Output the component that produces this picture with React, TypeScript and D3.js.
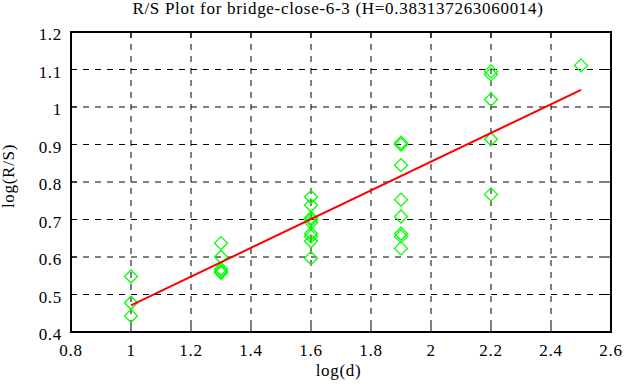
import React from "react";
import * as d3 from "d3";

const title = "R/S Plot for bridge-close-6-3 (H=0.383137263060014)";
const xTicks = [0.8, 1, 1.2, 1.4, 1.6, 1.8, 2, 2.2, 2.4, 2.6];
const yTicks = [0.4, 0.5, 0.6, 0.7, 0.8, 0.9, 1, 1.1, 1.2];
const xTickLabels = ["0.8", "1", "1.2", "1.4", "1.6", "1.8", "2", "2.2", "2.4", "2.6"];
const yTickLabels = ["0.4", "0.5", "0.6", "0.7", "0.8", "0.9", "1", "1.1", "1.2"];

const logD = [
  1, 1, 1,
  1.3, 1.3, 1.3, 1.3, 1.3,
  1.6, 1.6, 1.6, 1.6, 1.6, 1.6, 1.6, 1.6, 1.6,
  1.9, 1.9, 1.9, 1.9, 1.9, 1.9, 1.9, 1.9,
  2.2, 2.2, 2.2, 2.2, 2.2,
  2.5,
];
const logRS = [
  0.548, 0.478, 0.443,
  0.637, 0.600, 0.568, 0.562, 0.558,
  0.760, 0.738, 0.705, 0.700, 0.692, 0.662, 0.655, 0.642, 0.597,
  0.905, 0.900, 0.845, 0.753, 0.708, 0.662, 0.655, 0.623,
  1.095, 1.087, 1.020, 0.914, 0.767,
  1.111,
];
const fitX = [1, 2.5];
const slope = 0.383137263060014;
const intercept = 0.088;

const W = 626, H = 387;
const M = { left: 71, right: 611, top: 32, bottom: 332 };

export default function App() {
  const x = d3.scaleLinear().domain([0.8, 2.6]).range([M.left, M.right]);
  const y = d3.scaleLinear().domain([0.4, 1.2]).range([M.bottom, M.top]);
  const font = "'Liberation Serif', 'Times New Roman', serif";
  const fs = 17;
  const ls = 0.7;
  const line = d3.line<number>().x(d => x(d)).y(d => y(intercept + slope * d));
  const r = 6.5;
  const tl = 6;
  return (
    <svg width={W} height={H} style={{ position: "absolute", left: 0, top: 0, background: "#fff" }}>
      <rect x={0} y={0} width={W} height={H} fill="#fff" />
      <text x={338} y={13.5} textAnchor="middle" fontFamily={font} fontSize={fs} letterSpacing={ls}>{title}</text>
      {/* grid */}
      {xTicks.slice(1, -1).map(t => (
        <line key={"gx" + t} x1={x(t)} x2={x(t)} y1={M.top} y2={M.bottom} stroke="#000" strokeWidth={1} strokeDasharray="6,6" />
      ))}
      {yTicks.slice(1, -1).map(t => (
        <line key={"gy" + t} x1={M.left} x2={M.right} y1={y(t)} y2={y(t)} stroke="#000" strokeWidth={1} strokeDasharray="6,6" />
      ))}
      {/* ticks */}
      {xTicks.map(t => (
        <g key={"tx" + t}>
          <line x1={x(t)} x2={x(t)} y1={M.bottom} y2={M.bottom - tl} stroke="#000" strokeWidth={1} />
          <line x1={x(t)} x2={x(t)} y1={M.top} y2={M.top + tl} stroke="#000" strokeWidth={1} />
        </g>
      ))}
      {yTicks.map(t => (
        <g key={"ty" + t}>
          <line x1={M.left} x2={M.left + tl} y1={y(t)} y2={y(t)} stroke="#000" strokeWidth={1} />
          <line x1={M.right} x2={M.right - tl} y1={y(t)} y2={y(t)} stroke="#000" strokeWidth={1} />
        </g>
      ))}
      {/* points */}
      {logD.map((d, i) => {
        const cx = x(d), cy = y(logRS[i]);
        return (
          <path key={"p" + i} d={`M${cx},${cy - r}L${cx + r},${cy}L${cx},${cy + r}L${cx - r},${cy}Z`} fill="none" stroke="#00ff00" strokeWidth={1.3} />
        );
      })}
      {/* fit */}
      <path d={line(fitX) || ""} fill="none" stroke="#ff0000" strokeWidth={2} />
      {/* border */}
      <rect x={M.left} y={M.top} width={M.right - M.left} height={M.bottom - M.top} fill="none" stroke="#000" strokeWidth={2} />
      {/* labels */}
      {xTicks.map((t, i) => (
        <text key={"lx" + t} x={x(t)} y={356} textAnchor="middle" fontFamily={font} fontSize={fs} letterSpacing={ls}>{xTickLabels[i]}</text>
      ))}
      {yTicks.map((t, i) => (
        <text key={"ly" + t} x={M.left - 9} y={y(t) + 8} textAnchor="end" fontFamily={font} fontSize={fs} letterSpacing={ls}>{yTickLabels[i]}</text>
      ))}
      <text x={338.5} y={376} textAnchor="middle" fontFamily={font} fontSize={fs} letterSpacing={ls}>log(d)</text>
      <text transform={`translate(14,176) rotate(-90)`} textAnchor="middle" fontFamily={font} fontSize={fs} letterSpacing={ls}>log(R/S)</text>
    </svg>
  );
}
